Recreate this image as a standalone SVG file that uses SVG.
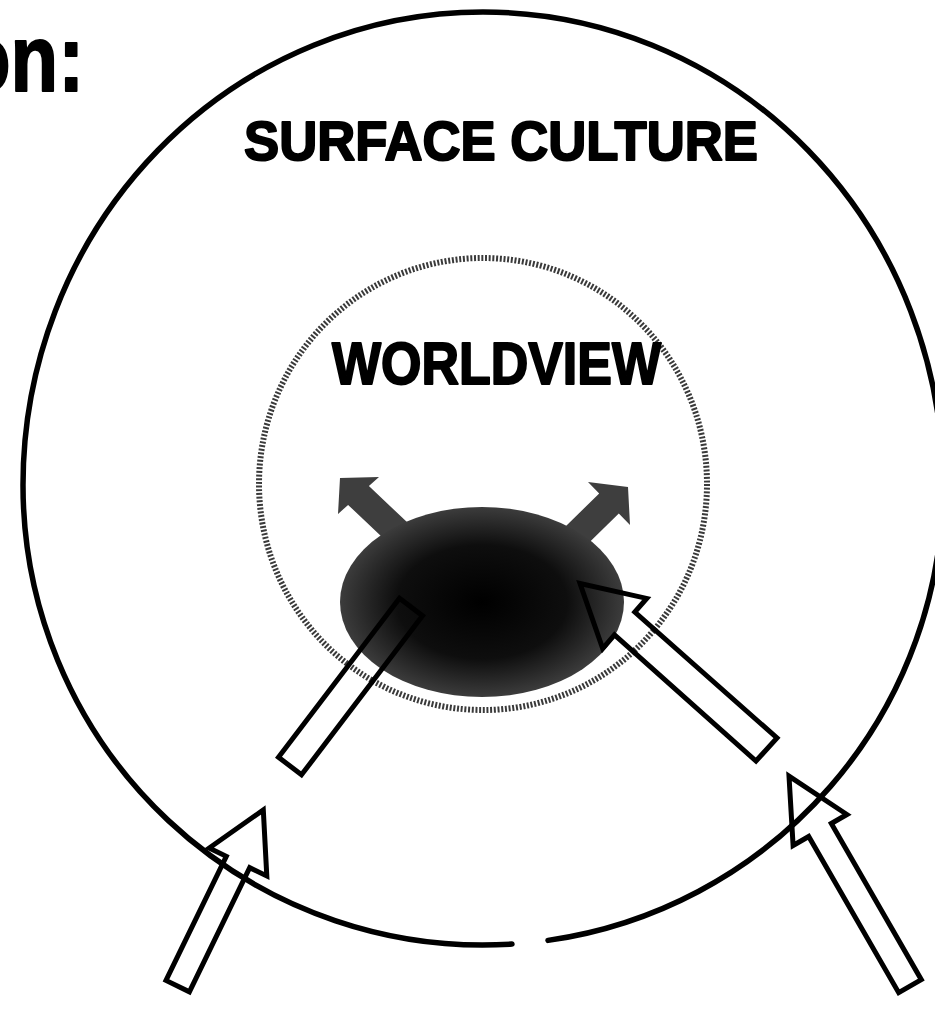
<svg xmlns="http://www.w3.org/2000/svg" width="935" height="1013" viewBox="0 0 935 1013">
<defs>
<radialGradient id="core" cx="0.5" cy="0.5" r="0.5">
<stop offset="0" stop-color="#000"/>
<stop offset="0.6" stop-color="#0e0e0e"/>
<stop offset="1" stop-color="#3c3c3c"/>
</radialGradient>
<style>
.lbl{font-family:"Liberation Sans",Arial,sans-serif;font-weight:bold;fill:#000;stroke:#000;stroke-width:2;stroke-linejoin:round}
.outline{fill:none;stroke:#000;stroke-width:5;stroke-linejoin:miter}
.grey{fill:#3e3e3e;stroke:none}
</style>
</defs>
<rect width="935" height="1013" fill="#fff"/>
<text class="lbl" transform="translate(-37 91) scale(0.82 1)" font-size="95">on:</text>
<g id="surface-culture">
<path d="M548 940.4 A460 460 0 0 0 943 485 A460 473 0 0 0 483 12 A460 473 0 0 0 23 485 A460 460 0 0 0 512 944.1" fill="none" stroke="#000" stroke-width="5.5" stroke-linecap="round"/>
<text class="lbl" x="244" y="160" font-size="56" textLength="514" lengthAdjust="spacingAndGlyphs">SURFACE CULTURE</text>
</g>
<g id="worldview">
<ellipse cx="483" cy="484" rx="224" ry="226" fill="none" stroke="#3a3a3a" stroke-width="6" stroke-dasharray="2 1.7"/>
<text class="lbl" x="332" y="384" font-size="59" textLength="329" lengthAdjust="spacingAndGlyphs">WORLDVIEW</text>
</g>
<g id="core-arrows">
<polygon class="grey" points="340,478 379,477 368.9,486.1 423.4,537.6 402.6,556.4 348.1,504.9 338,514"/>
<polygon class="grey" points="628,487 630,525 618.8,513.5 565.2,565.9 545.6,545.9 599.2,493.5 588,482"/>
</g>
<g id="core">
<ellipse cx="482" cy="602" rx="142" ry="95" fill="url(#core)"/>
</g>
<g id="connectors">
<polygon class="outline" points="278.5,757.2 301.5,774.8 422.5,615.8 399.5,598.2"/>
<polygon class="outline" points="580,583.5 646.7,598.4 634.8,612 777,738 756,761 614.5,634.9 602.7,648.6"/>
<polygon class="outline" points="263.3,809.9 266.8,876 249.7,867.7 189.4,991.8 166,980.4 226.3,856.3 209.2,848"/>
<polygon class="outline" points="789,776.2 846.9,814.5 831.3,823.5 921.3,979.7 898.7,992.7 808.7,836.5 793.1,845.5"/>
</g>
</svg>
